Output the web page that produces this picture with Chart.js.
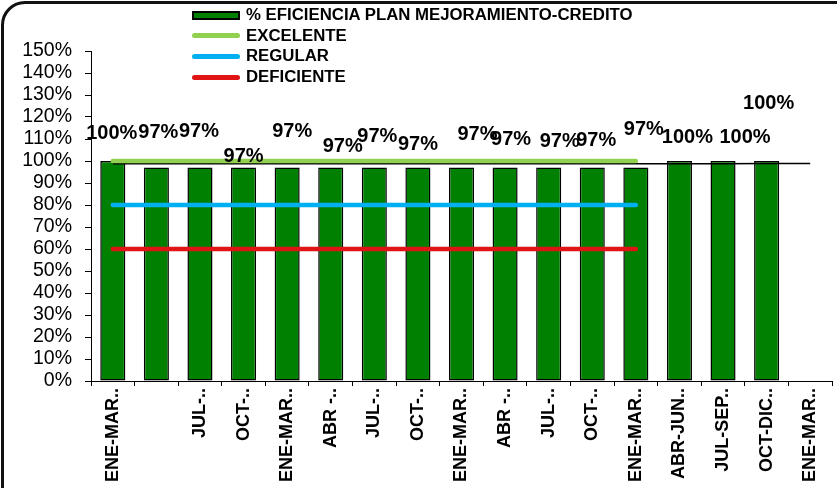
<!DOCTYPE html>
<html>
<head>
<meta charset="utf-8">
<script src="https://cdn.jsdelivr.net/npm/chart.js@4.4.1/dist/chart.umd.min.js"></script>
<style>
  html, body { margin:0; padding:0; background:#fff; overflow:hidden; }
  #wrap { position:relative; width:837px; height:488px; overflow:hidden; }
  #frame { position:absolute; left:1px; top:1px; width:860px; height:540px; border:3px solid #111; border-radius:24px; box-sizing:border-box; pointer-events:none; }
  canvas { position:absolute; left:0; top:0; }
  #legend { position:absolute; left:192px; top:5px; font:bold 16.8px "Liberation Sans", Arial, sans-serif; color:#000; }
  .item { display:flex; align-items:center; height:20.6px; white-space:nowrap; }
  .sw { width:48px; margin-right:6px; box-sizing:border-box; }
</style>
</head>
<body>
<div id="wrap">
  <canvas id="c" width="837" height="488"></canvas>
  <div id="legend"></div>
  <div id="frame"></div>
</div>
<script>
const categories = ['ENE-MAR..', '', 'JUL-..', 'OCT-..', 'ENE-MAR..', 'ABR -..', 'JUL-..', 'OCT-..', 'ENE-MAR..', 'ABR -..', 'JUL-..', 'OCT-..', 'ENE-MAR..', 'ABR-JUN..', 'JUL-SEP..', 'OCT-DIC..', 'ENE-MAR..'];
const eficiencia = [100, 97, 97, 97, 97, 97, 97, 97, 97, 97, 97, 97, 97, 100, 100, 100, null];
const excelente  = [100, 100, 100, 100, 100, 100, 100, 100, 100, 100, 100, 100, 100, null, null, null, null];
const regular    = [80, 80, 80, 80, 80, 80, 80, 80, 80, 80, 80, 80, 80, null, null, null, null];
const deficiente = [60, 60, 60, 60, 60, 60, 60, 60, 60, 60, 60, 60, 60, null, null, null, null];
const tendencia  = [98.7, 98.7, 98.7, 98.7, 98.7, 98.7, 98.7, 98.7, 98.8, 98.8, 98.8, 98.8, 98.8, 98.8, 98.8, 98.9, 98.9];
const yTicks = [0, 10, 20, 30, 40, 50, 60, 70, 80, 90, 100, 110, 120, 130, 140, 150];

const FONT = '"Liberation Sans", Arial, sans-serif';

const barLabels = {
  id: 'barLabels',
  afterDatasetsDraw(chart, args, opts) {
    const ctx = chart.ctx;
    const meta = chart.getDatasetMeta(0);
    const data = chart.data.datasets[0].data;
    ctx.save();
    ctx.font = opts.font;
    ctx.fillStyle = '#000';
    ctx.textAlign = 'center';
    ctx.textBaseline = 'middle';
    meta.data.forEach((bar, i) => {
      const v = data[i];
      if (v == null) return;
      const off = opts.offsets[i] || [0, -20];
      ctx.fillText(v + '%', bar.x + off[0], bar.y + off[1]);
    });
    ctx.restore();
  }
};

const whiteBg = {
  id: 'whiteBg',
  beforeDraw(chart) {
    const ctx = chart.ctx;
    ctx.save();
    ctx.fillStyle = '#fff';
    ctx.fillRect(0, 0, chart.width, chart.height);
    ctx.restore();
  }
};

const chart = new Chart(document.getElementById('c'), {
  data: {
    labels: categories,
    datasets: [
      { type: 'bar', label: '% EFICIENCIA PLAN MEJORAMIENTO-CREDITO', data: eficiencia,
        backgroundColor: '#008000', borderColor: '#000', borderWidth: 1.5, borderSkipped: false,
        barPercentage: 0.575, categoryPercentage: 1, order: 5 },
      { type: 'line', label: 'tendencia', data: tendencia, borderColor: '#000', borderWidth: 1.5,
        pointRadius: 0, spanGaps: false, order: 4 },
      { type: 'line', label: 'EXCELENTE', data: excelente, borderColor: '#92D050', borderWidth: 4.5,
        borderCapStyle: 'round', pointRadius: 0, order: 1 },
      { type: 'line', label: 'REGULAR', data: regular, borderColor: '#00B0F0', borderWidth: 4.5,
        borderCapStyle: 'round', pointRadius: 0, order: 2 },
      { type: 'line', label: 'DEFICIENTE', data: deficiente, borderColor: '#E01414', borderWidth: 4.5,
        borderCapStyle: 'round', pointRadius: 0, order: 3 }
    ]
  },
  options: {
    responsive: false,
    animation: false,
    layout: { padding: { top: 51, left: 0, right: 5, bottom: 0 } },
    plugins: {
      legend: { display: false },
      tooltip: { enabled: false },
      barLabels: {
        font: 'bold 20px ' + FONT,
        offsets: [[-1, -28], [2, -35], [-1, -36], [0, -11], [5, -36], [12, -21], [3, -31], [0, -23],
                  [16, -33], [6, -28], [11, -26], [4, -27], [8, -38], [8, -24], [22, -24], [2, -58]]
      }
    },
    scales: {
      x: {
        afterFit(s) { s.height = 107; },
        grid: { offset: true, drawOnChartArea: false, color: '#000', tickLength: 5, lineWidth: 1 },
        border: { color: '#000', width: 1 },
        ticks: { color: '#000', font: { family: FONT, size: 18, weight: 'bold' },
                 maxRotation: 90, minRotation: 90, autoSkip: false, padding: 2 }
      },
      y: {
        min: 0, max: 150,
        afterFit(s) { s.width = 91; },
        afterBuildTicks(s) { s.ticks = yTicks.map(v => ({ value: v })); },
        grid: { drawOnChartArea: false, color: '#000', tickLength: 6, lineWidth: 1 },
        border: { color: '#000', width: 1 },
        ticks: { color: '#000', font: { family: FONT, size: 19.5 }, padding: 13, autoSkip: false,
                 callback: v => v + '%' }
      }
    }
  },
  plugins: [whiteBg, barLabels]
});

// HTML legend built from the datasets (trend line excluded)
const legend = document.getElementById('legend');
chart.data.datasets.forEach(ds => {
  if (ds.label === 'tendencia') return;
  const item = document.createElement('div');
  item.className = 'item';
  const sw = document.createElement('span');
  sw.className = 'sw';
  if (ds.type === 'bar') {
    sw.style.height = '9px';
    sw.style.background = ds.backgroundColor;
    sw.style.border = '2px solid #000';
  } else {
    sw.style.height = '5px';
    sw.style.background = ds.borderColor;
    sw.style.borderRadius = '3px';
  }
  item.appendChild(sw);
  const t = document.createElement('span');
  t.textContent = ds.label;
  item.appendChild(t);
  legend.appendChild(item);
});
</script>
</body>
</html>
